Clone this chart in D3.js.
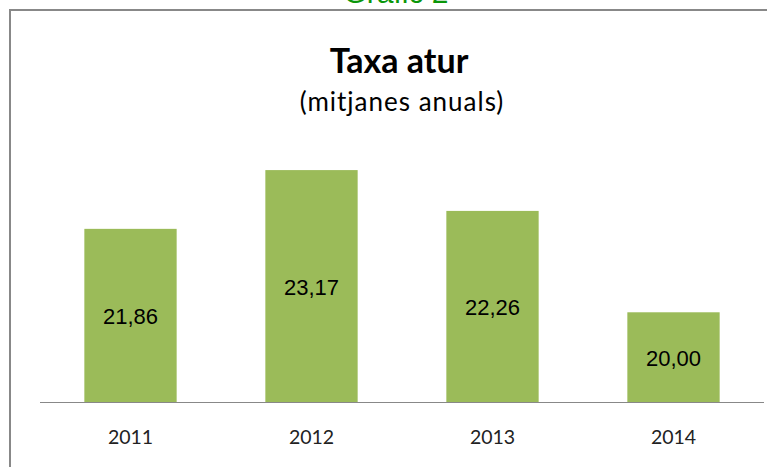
<!DOCTYPE html>
<html lang="ca">
<head>
<meta charset="utf-8">
<script src="https://d3js.org/d3.v7.min.js"></script>
<style>
  body { margin: 0; background: #fff; }
  svg { display: block; }
</style>
</head>
<body>
<script>
// Chart data
var years = ["2011", "2012", "2013", "2014"];
var rates = [21.86, 23.17, 22.26, 20.00];
var header = "Gràfic 2";
var title = "Taxa atur";
var subtitle = "(mitjanes anuals)";

var w = 767, h = 467;

var svg = d3.select("body").append("svg")
    .attr("width", w)
    .attr("height", h);

// Green header, mostly cut off by the top edge
svg.append("text")
    .attr("x", 396)
    .attr("y", 3)
    .attr("text-anchor", "middle")
    .attr("font-family", "Liberation Sans, Arial, sans-serif")
    .attr("font-size", 30)
    .attr("fill", "#0a960a")
    .text(header);

// Chart frame (runs off the right and bottom edges)
svg.append("rect")
    .attr("x", 10)
    .attr("y", 10)
    .attr("width", w + 20)
    .attr("height", h + 20)
    .attr("fill", "none")
    .attr("stroke", "#888")
    .attr("stroke-width", 2);

// Titles
svg.append("text")
    .attr("x", 399)
    .attr("y", 73)
    .attr("text-anchor", "middle")
    .attr("font-family", "Lato, sans-serif")
    .attr("font-weight", "bold")
    .attr("font-size", 34)
    .attr("fill", "#000")
    .text(title);

svg.append("text")
    .attr("x", 402)
    .attr("y", 111)
    .attr("text-anchor", "middle")
    .attr("font-family", "Lato, sans-serif")
    .attr("font-size", 26)
    .attr("letter-spacing", 1)
    .attr("fill", "#000")
    .text(subtitle);

// Scales
var x = d3.scaleBand()
    .domain(years)
    .range([40, 764])
    .paddingInner(0.49)
    .paddingOuter(0.245);

var y = d3.scaleLinear()
    .domain([18, 25])
    .range([402, 88]);

// Bars
svg.selectAll("rect.bar")
    .data(rates)
    .enter().append("rect")
    .attr("class", "bar")
    .attr("x", function(d, i) { return x(years[i]); })
    .attr("y", function(d) { return y(d); })
    .attr("width", x.bandwidth())
    .attr("height", function(d) { return y(18) - y(d); })
    .attr("fill", "#9bbb59");

// Value labels, centred in each bar
svg.selectAll("text.val")
    .data(rates)
    .enter().append("text")
    .attr("class", "val")
    .attr("x", function(d, i) { return x(years[i]) + x.bandwidth() / 2; })
    .attr("y", function(d) { return (y(d) + y(18)) / 2 + 9; })
    .attr("text-anchor", "middle")
    .attr("font-family", "Liberation Sans, Arial, sans-serif")
    .attr("font-size", 22)
    .attr("fill", "#000")
    .text(function(d) { return d.toFixed(2).replace(".", ","); });

// Category axis
var axis = svg.append("g")
    .attr("transform", "translate(0," + y(18) + ")")
    .call(d3.axisBottom(x).tickSize(0).tickPadding(28));

axis.select(".domain")
    .attr("stroke", "#888")
    .attr("d", "M40,0.5H764");

axis.selectAll("text")
    .attr("font-family", "Lato, sans-serif")
    .attr("font-size", 19.5)
    .attr("fill", "#222");
</script>
</body>
</html>
